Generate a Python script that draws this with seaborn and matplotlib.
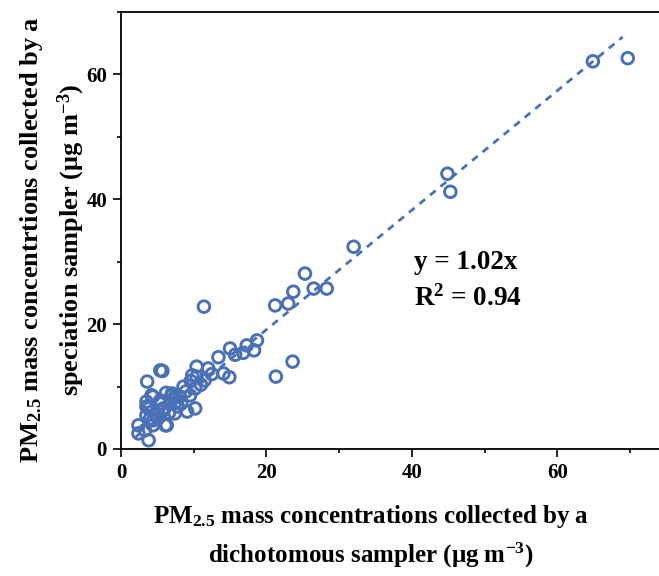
import matplotlib
matplotlib.use("Agg")
import matplotlib.pyplot as plt
import seaborn as sns
import pandas as pd
from matplotlib.ticker import MultipleLocator

# ---- data ----
dicho = [69.7, 64.9, 44.9, 45.3, 32.0, 25.3, 26.5, 28.3, 21.2, 23.0, 23.7, 11.4, 21.3, 23.6,
         18.7, 17.3, 18.3, 16.8, 15.0, 15.7, 13.4, 12.0, 10.4, 14.1, 14.9, 5.4, 5.7, 3.6,
         10.4, 11.5, 8.6, 10.2, 7.0, 8.1, 9.5, 10.2, 9.1, 8.3, 5.8, 4.4, 3.5, 3.5, 5.4, 6.7,
         4.9, 6.3, 4.4, 2.4, 2.4, 3.8, 3.3, 7.4, 7.3, 4.2, 3.5, 3.8, 5.8, 5.4, 7.0, 7.4,
         4.0, 5.1, 6.1, 4.4, 9.8, 11.0, 8.9, 6.2, 7.8, 6.6, 9.6, 12.5]
speci = [62.6, 62.1, 44.1, 41.2, 32.4, 28.1, 25.7, 25.7, 23.0, 23.3, 25.2, 22.8, 11.6, 14.0,
         17.4, 16.6, 15.8, 15.4, 16.1, 15.1, 14.7, 12.9, 13.2, 12.1, 11.5, 12.6, 12.5, 10.8,
         11.6, 11.0, 10.0, 9.7, 8.9, 8.4, 8.6, 6.5, 6.0, 7.3, 6.5, 8.4, 6.8, 5.4, 7.3, 7.3,
         5.4, 3.8, 4.6, 3.8, 2.5, 1.4, 3.0, 5.7, 8.2, 8.6, 7.6, 6.5, 6.2, 7.8, 8.6, 7.3,
         4.9, 4.9, 3.8, 3.8, 11.8, 10.3, 9.2, 9.0, 6.8, 5.8, 10.9, 12.0]
fit_x = [2.0, 69.0]
fit_y = [1.9, 66.0]
x_ticks = [0, 20, 40, 60]
y_ticks = [0, 20, 40, 60]
eq_text = "y = 1.02x"
r2_text = "R$\\mathregular{^2}$ = 0.94"
xlabel = "PM$\\mathregular{_{2.5}}$ mass concentrations collected by a\ndichotomous sampler (μg m$\\mathregular{^{-3}}$)"
ylabel = "PM$\\mathregular{_{2.5}}$ mass concentrtions collected by a\nspeciation sampler (μg m$\\mathregular{^{-3}}$)"

df = pd.DataFrame({"dicho": dicho, "speci": speci})
fit = pd.DataFrame({"x": fit_x, "y": fit_y})

sns.set_theme(style="ticks")
plt.rcParams["font.family"] = ["Liberation Serif", "DejaVu Serif"]
plt.rcParams["font.weight"] = "bold"
plt.rcParams["mathtext.fontset"] = "custom"
plt.rcParams["mathtext.rm"] = "Liberation Serif:bold"

blue = "#4a70b6"

fig = plt.figure(figsize=(6.59, 5.76), dpi=100)
ax = fig.add_axes([121 / 659, 127 / 576, 538 / 659, 437 / 576])

sns.lineplot(data=fit, x="x", y="y", ax=ax, color=blue, lw=2.0,
             linestyle=(0, (2.6, 2.3)), zorder=2)
sns.scatterplot(data=df, x="dicho", y="speci", ax=ax, marker="o", s=70,
                facecolor="none", edgecolor=blue, linewidth=2.1, zorder=3)

ax.set_xlim(0, 74)
ax.set_ylim(0, 70)
ax.set_xticks(x_ticks)
ax.set_yticks(y_ticks)
ax.xaxis.set_minor_locator(MultipleLocator(10))
ax.yaxis.set_minor_locator(MultipleLocator(10))
ax.tick_params(which="major", direction="out", length=6, width=1.2, labelsize=15,
               color="black", labelcolor="black", pad=4)
ax.tick_params(which="minor", direction="out", length=3, width=1.2, color="black")
for lab in ax.get_xticklabels() + ax.get_yticklabels():
    lab.set_fontweight("bold")

for side in ["left", "bottom", "top"]:
    ax.spines[side].set_linewidth(1.3)
    ax.spines[side].set_color("black")
ax.spines["right"].set_visible(False)

ax.set_xlabel(xlabel, fontsize=18, fontweight="bold", linespacing=1.5, color="black")
ax.set_ylabel(ylabel, fontsize=19, fontweight="bold", linespacing=1.45, color="black")
ax.xaxis.set_label_coords(0.465, -0.124, transform=ax.transAxes)
ax.xaxis.label.set_va("top")
ax.yaxis.set_label_coords(-0.127, 0.48, transform=ax.transAxes)
ax.yaxis.label.set_va("center")

ax.text(40.3, 28.8, eq_text, fontsize=19.5, fontweight="bold", color="black", va="baseline")
ax.text(40.3, 23.0, r2_text, fontsize=19.5, fontweight="bold", color="black", va="baseline")

fig.savefig("out.png", dpi=100)
